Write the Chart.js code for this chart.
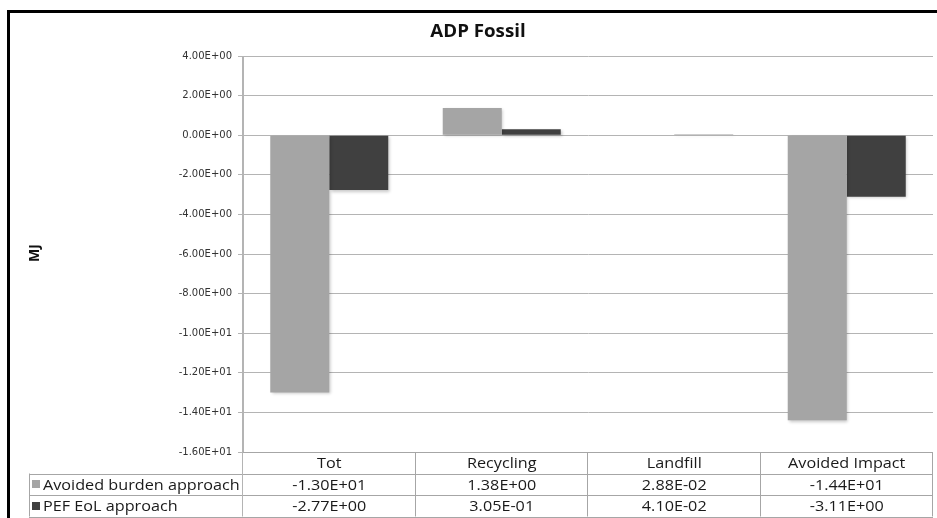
<!DOCTYPE html>
<html>
<head>
<meta charset="utf-8">
<script src="https://cdn.jsdelivr.net/npm/chart.js@4/dist/chart.umd.min.js"></script>
<style>
  html, body { margin: 0; padding: 0; background: #fff; }
  #wrap { width: 937px; height: 518px; position: relative; }
</style>
</head>
<body>
<div id="wrap"><canvas id="adpChart" width="937" height="518"></canvas></div>
<script>
const categories = ['Tot', 'Recycling', 'Landfill', 'Avoided Impact'];
const seriesNames = ['Avoided burden approach', 'PEF EoL approach'];
const avoidedBurden = [-13.0, 1.38, 0.0288, -14.4];
const pefEol = [-2.77, 0.305, 0.041, -3.11];
const seriesColors = ['#a5a5a5', '#404040'];
const yTicks = [4, 2, 0, -2, -4, -6, -8, -10, -12, -14, -16];

// Excel style scientific notation, e.g. -1.30E+01
function sci(v) {
  const parts = v.toExponential(2).split('e');
  const exp = parseInt(parts[1], 10);
  const sign = exp < 0 ? '-' : '+';
  return parts[0] + 'E' + sign + String(Math.abs(exp)).padStart(2, '0');
}

const gridColor = '#b4b4b4';
const tableLine = '#a6a6a6';
const tableFont = '15px "Open Sans", sans-serif';
const stretch = 1.08;

// text drawn a little wider, like the Calibri rendering of the sheet
function wideText(ctx, text, x, y, sx) {
  ctx.save();
  ctx.translate(x, y);
  ctx.scale(sx, 1);
  ctx.fillText(text, 0, 0);
  ctx.restore();
}

// frame, title, axis title and the data table under the plot
const decorPlugin = {
  id: 'decor',
  beforeDraw(chart) {
    const ctx = chart.ctx;
    ctx.save();
    ctx.fillStyle = '#fff';
    ctx.fillRect(0, 0, chart.width, chart.height);
    ctx.restore();
  },
  beforeDatasetsDraw(chart) {
    const ctx = chart.ctx;
    ctx.save();
    ctx.shadowColor = 'rgba(0,0,0,0.22)';
    ctx.shadowBlur = 3;
    ctx.shadowOffsetX = 1.5;
    ctx.shadowOffsetY = 1.5;
  },
  afterDatasetsDraw(chart) {
    chart.ctx.restore();
  },
  afterDraw(chart) {
    const ctx = chart.ctx;
    const area = chart.chartArea;
    const xs = chart.scales.x;
    ctx.save();

    // outer frame
    ctx.fillStyle = '#000';
    ctx.fillRect(7, 10, chart.width - 7, 3);
    ctx.fillRect(7, 10, 3, chart.height - 10);

    // title
    ctx.fillStyle = '#111';
    ctx.font = 'bold 18px "Open Sans", sans-serif';
    ctx.textAlign = 'center';
    ctx.textBaseline = 'middle';
    wideText(ctx, 'ADP Fossil', 478, 32, 1.04);

    // y axis title
    ctx.save();
    ctx.translate(35, 253);
    ctx.rotate(-Math.PI / 2);
    ctx.font = 'bold 14px "Open Sans", sans-serif';
    ctx.fillText('MJ', 0, 0);
    ctx.restore();

    // data table
    const rowH = 21.5;
    const top = area.bottom;
    const rows = [top, top + rowH, top + rowH * 2, top + rowH * 3];
    const labelLeft = 29;
    const half = (xs.getPixelForValue(1) - xs.getPixelForValue(0)) / 2;
    const edges = [area.left];
    categories.forEach((c, i) => edges.push(xs.getPixelForValue(i) + half));

    ctx.strokeStyle = tableLine;
    ctx.lineWidth = 1;
    ctx.beginPath();
    // horizontal lines
    ctx.moveTo(area.left, rows[0] + 0.5); ctx.lineTo(area.right, rows[0] + 0.5);
    for (let r = 1; r < 4; r++) {
      const y = Math.round(rows[r]) + 0.5;
      ctx.moveTo(labelLeft, y); ctx.lineTo(area.right, y);
    }
    // vertical lines
    edges.forEach((x, i) => {
      if (i === 0) return;
      const xx = Math.round(x) - 0.5;
      ctx.moveTo(xx, rows[0]); ctx.lineTo(xx, rows[3]);
    });
    ctx.moveTo(labelLeft + 0.5, rows[1]); ctx.lineTo(labelLeft + 0.5, rows[3]);
    ctx.stroke();

    // y axis line runs down through the table
    ctx.strokeStyle = gridColor;
    ctx.beginPath();
    ctx.moveTo(area.left - 0.5, area.top);
    ctx.lineTo(area.left - 0.5, rows[3]);
    ctx.stroke();

    ctx.font = tableFont;
    ctx.fillStyle = '#1a1a1a';
    ctx.textAlign = 'center';
    ctx.textBaseline = 'middle';
    categories.forEach((c, i) => {
      wideText(ctx, c, xs.getPixelForValue(i), rows[0] + rowH / 2 + 1, stretch);
    });
    [avoidedBurden, pefEol].forEach((vals, r) => {
      const yc = rows[r + 1] + rowH / 2 + 1;
      vals.forEach((v, i) => wideText(ctx, sci(v), xs.getPixelForValue(i), yc, stretch));
      ctx.fillStyle = seriesColors[r];
      ctx.fillRect(32, Math.round(yc) - 5, 8, 8);
      ctx.fillStyle = '#1a1a1a';
      ctx.textAlign = 'left';
      wideText(ctx, seriesNames[r], 43, yc, stretch);
      ctx.textAlign = 'center';
    });
    ctx.restore();
  }
};

new Chart(document.getElementById('adpChart'), {
  type: 'bar',
  data: {
    labels: categories,
    datasets: [
      { label: seriesNames[0], data: avoidedBurden, backgroundColor: seriesColors[0] },
      { label: seriesNames[1], data: pefEol, backgroundColor: seriesColors[1] }
    ]
  },
  options: {
    responsive: false,
    animation: false,
    categoryPercentage: 0.684,
    barPercentage: 1.0,
    layout: { padding: { left: 0, top: 56, right: 4, bottom: 66 } },
    plugins: {
      legend: { display: false },
      title: { display: false },
      tooltip: { enabled: false }
    },
    scales: {
      x: { display: false },
      y: {
        min: -16,
        max: 4,
        afterFit(scale) { scale.width = 243; },
        afterBuildTicks(scale) { scale.ticks = yTicks.map(v => ({ value: v })); },
        border: { color: gridColor },
        grid: { color: gridColor, tickLength: 5, drawTicks: true },
        ticks: {
          padding: 6,
          color: '#333',
          font: { family: '"DejaVu Sans", Verdana, sans-serif', size: 10 },
          callback: v => sci(v)
        }
      }
    }
  },
  plugins: [decorPlugin]
});
</script>
</body>
</html>
